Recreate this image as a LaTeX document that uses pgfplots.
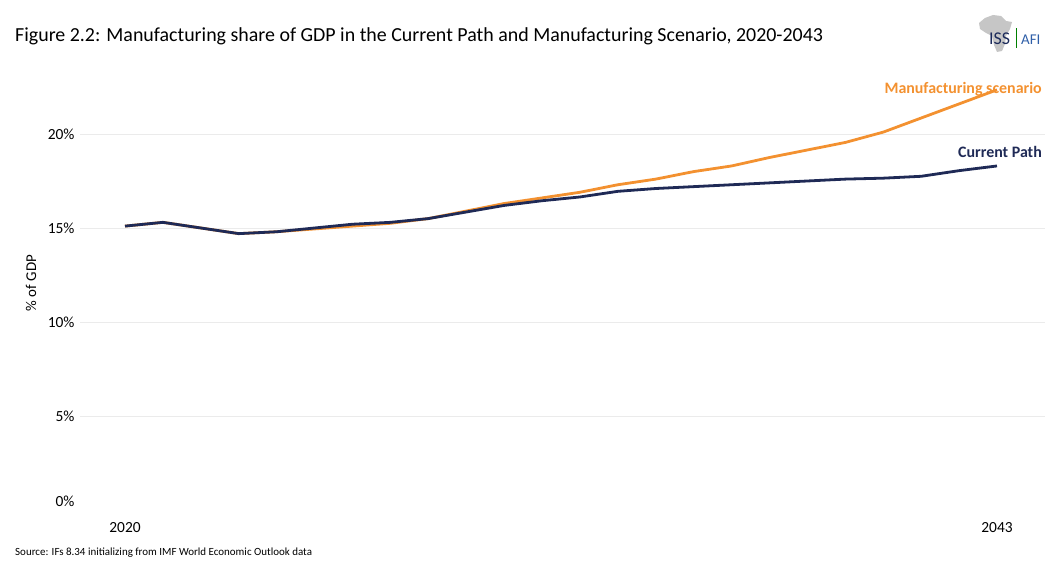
\documentclass[border=0pt]{standalone}
\usepackage{pgfplots}
\pgfplotsset{compat=1.18}
\usepackage{fontspec}
\setmainfont{Carlito}
\definecolor{navy}{HTML}{1F2A56}
\definecolor{orng}{HTML}{F39130}
\definecolor{gridc}{HTML}{EBEBEB}
\definecolor{afiblue}{HTML}{2F5FA8}
\definecolor{issnavy}{HTML}{1B2A5A}
\begin{document}
\begin{tikzpicture}[x=1bp,y=1bp]
\path[use as bounding box] (0,0) rectangle (1055,584);
\begin{axis}[
  at={(80bp,74bp)}, anchor=south west,
  scale only axis, width=965bp, height=470bp,
  xmin=2018.813, xmax=2044.266,
  ymin=0, ymax=25,
  axis line style={draw=none},
  ytick={5,10,15,20},
  yticklabels={5\%,10\%,15\%,20\%},
  extra y ticks={0},
  extra y tick labels={0\%},
  extra y tick style={ymajorgrids=false, yticklabel style={yshift=9bp}},
  xtick={2020,2043},
  xticklabels={2020,2043},
  ymajorgrids, grid style={gridc, line width=0.8bp},
  tick style={draw=none},
  ticklabel style={font=\fontsize{15.5}{17}\selectfont, text=black},
  yticklabel style={xshift=-2bp},
  xticklabel style={yshift=-9bp},
  /pgf/number format/assume math mode=true,
  clip=false,
]
\addplot[orng, line width=2.8bp] coordinates {
(2020,15.1) (2021,15.3) (2022,15.0) (2023,14.7) (2024,14.8) (2025,14.95)
(2026,15.1) (2027,15.25) (2028,15.5) (2029,15.9) (2030,16.3) (2031,16.6)
(2032,16.9) (2033,17.3) (2034,17.6) (2035,18.0) (2036,18.3) (2037,18.75)
(2038,19.15) (2039,19.55) (2040,20.1) (2041,20.85) (2042,21.6) (2043,22.35)
};
\addplot[navy, line width=2.8bp] coordinates {
(2020,15.1) (2021,15.3) (2022,15.0) (2023,14.7) (2024,14.8) (2025,15.0)
(2026,15.2) (2027,15.3) (2028,15.5) (2029,15.85) (2030,16.2) (2031,16.45)
(2032,16.65) (2033,16.95) (2034,17.1) (2035,17.2) (2036,17.3) (2037,17.4)
(2038,17.5) (2039,17.6) (2040,17.65) (2041,17.75) (2042,18.05) (2043,18.3)
};
\end{axis}
% y axis label
\node[rotate=90, font=\fontsize{15}{17}\selectfont] at (31,301) {\% of GDP};
% title
\node[anchor=base west, inner sep=0, font=\fontsize{20}{22}\selectfont] at (15,542)
  {Figure 2.2: Manufacturing share of GDP in the Current Path and Manufacturing Scenario, 2020-2043};
% source
\node[anchor=base west, inner sep=0, font=\fontsize{11}{13}\selectfont] at (15,28)
  {Source: IFs 8.34 initializing from IMF World Economic Outlook data};
% series labels
\node[anchor=east, inner sep=0, text=orng, font=\bfseries\fontsize{16}{18}\selectfont] at (1042,495) {Manufacturing scenario};
\node[anchor=east, inner sep=0, text=navy, font=\bfseries\fontsize{16}{18}\selectfont] at (1042,432) {Current Path};
% logo
\fill[gray!45] (985,566) -- (993,569) -- (1001,568) -- (1006,563) -- (1012,562) -- (1010,555)
  -- (1006,548) -- (1005,540) -- (1002,533) -- (997,532) -- (994,539) -- (992,548)
  -- (986,551) -- (980,555) -- (979,561) -- cycle;
\node[anchor=base west, inner sep=0, text=issnavy, font=\fontsize{18}{20}\selectfont] at (989,539) {ISS};
\draw[green!50!black, line width=0.8bp] (1016,536) -- (1016,556);
\node[anchor=base west, inner sep=0, text=afiblue, font=\fontsize{15}{17}\selectfont] at (1021,539) {AFI};
\end{tikzpicture}
\end{document}
